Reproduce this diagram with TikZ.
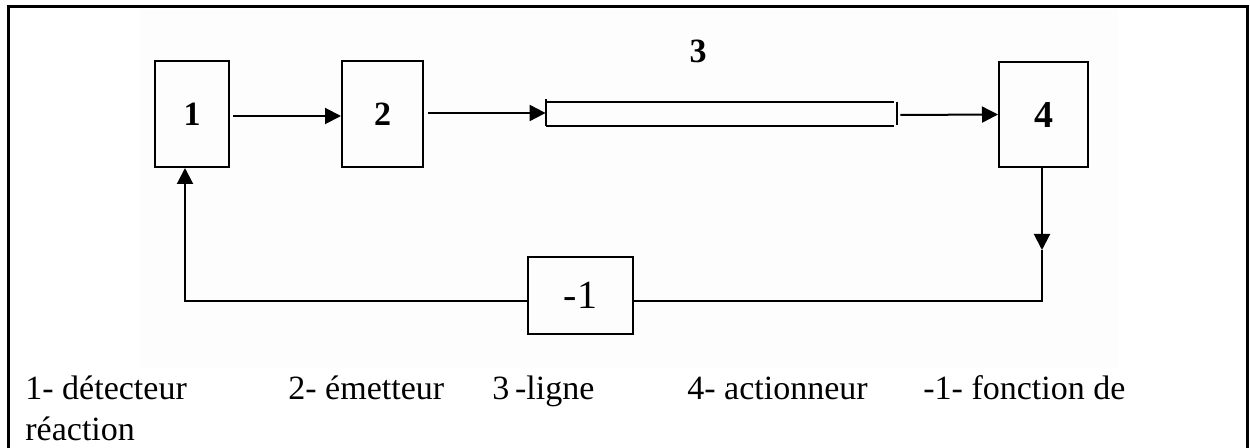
\documentclass[tikz,border=0pt]{standalone}
\usepackage{fontspec}
\setmainfont{Liberation Serif}
\usetikzlibrary{arrows.meta}
\begin{document}
\begin{tikzpicture}[x=0.5pt,y=-0.5pt,
  bloc/.style={draw,line width=1pt,inner sep=0pt,font=\fontsize{17}{20}\selectfont\bfseries},
  fleche/.style={line width=1pt,-{Triangle[length=8pt,width=8pt]}},
  trait/.style={line width=1pt},
  legende/.style={anchor=base west,inner sep=0pt,font=\fontsize{17}{20}\selectfont}]
\useasboundingbox (0,0) rectangle (1250,448);
% page frame (open at the bottom) and the pasted figure area
\fill[black!0.8] (140,9) rectangle (1118,368);
\draw[line width=1.5pt] (8,448) -- (8,7) -- (1247,7) -- (1247,448);

% blocks
\node[bloc,minimum width=37pt,minimum height=53pt] (b1) at (192,114) {1};
\node[bloc,minimum width=40.5pt,minimum height=53pt] (b2) at (382.5,114) {2};
\node[bloc,minimum width=44.5pt,minimum height=52.5pt,font=\fontsize{19}{22}\selectfont\bfseries] (b4) at (1043.5,114.5) {4};
\node[bloc,minimum width=52.5pt,minimum height=38.5pt,font=\fontsize{20}{24}\selectfont] (bm) at (580.5,295.5) {-1};

% transmission line
\node[inner sep=0pt,minimum width=174pt,minimum height=12pt] (ligne) at (720,114) {};
\draw[trait] ([yshift=1.5pt]ligne.north west) -- (ligne.south west);
\draw[trait] (ligne.north west) -- (ligne.north east);
\draw[trait] (ligne.south west) -- (ligne.south east);
\draw[trait] ([xshift=1.5pt]ligne.north east) -- ([xshift=1.5pt,yshift=0.5pt]ligne.south east);
\node[inner sep=0pt,font=\fontsize{17}{20}\selectfont\bfseries] (n3) at (698,51) {3};

% forward path
\draw[fleche] ([xshift=1.5pt,yshift=-1pt]b1.east) -- ([yshift=-1pt]b2.west);
\draw[fleche] ([xshift=2pt,yshift=0.5pt]b2.east) -- ([yshift=0.5pt]ligne.west);
\draw[fleche] ([xshift=3pt,yshift=-0.5pt]ligne.east) -- (b4.west);

% feedback loop
\coordinate (pointe) at ([xshift=-0.75pt]b4.south |- 0,250);
\coordinate (coinD) at ([xshift=-0.75pt]b4.south |- 0,301);
\coordinate (coinG) at ([xshift=-3.5pt]b1.south |- 0,301);
\draw[fleche] ([xshift=-0.75pt]b4.south) -- (pointe);
\draw[trait] (pointe) -- (coinD) -- (bm.east |- coinD);
\draw[fleche] (bm.west |- coinG) -- (coinG) -- ([xshift=-3.5pt]b1.south);

% legend
\node[legende] (l1) at (25,400) {1- détecteur};
\node[legende] (l2) at (288,400) {2- émetteur};
\node[legende] (l3) at (492,400) {3\,-ligne};
\node[legende] (l4) at (687,400) {4- actionneur};
\node[legende] (l5) at (923,400) {-1- fonction de};
\node[legende] (l6) at (25,441) {réaction};
\end{tikzpicture}
\end{document}
